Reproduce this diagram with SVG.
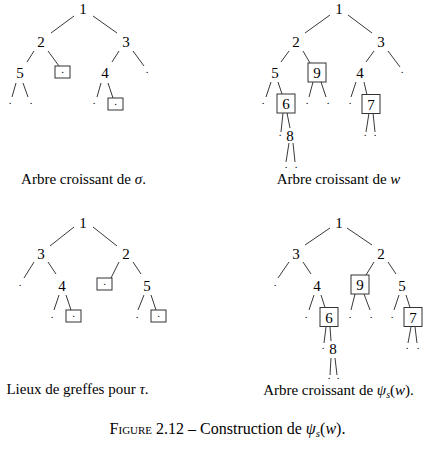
<svg xmlns="http://www.w3.org/2000/svg" width="436" height="454" viewBox="0 0 436 454">
<style>
text{font-family:"Liberation Serif","DejaVu Serif",serif;fill:#000;opacity:0.99}
.d{font-size:15px;text-anchor:middle}
.l{font-size:11px;text-anchor:middle}
.c{font-size:15px;text-anchor:middle}
.f{font-size:16px;text-anchor:middle}
.b{fill:none;stroke:#333;stroke-width:1}
#edges line{stroke:#222;stroke-width:0.9}
</style>
<rect width="436" height="454" fill="#fff"/>
<g id="edges">
<line x1="74" y1="16" x2="51" y2="33"/><line x1="93" y1="16" x2="117" y2="33"/>
<line x1="34" y1="51" x2="27" y2="62"/><line x1="48" y1="51" x2="59" y2="66"/>
<line x1="119" y1="51" x2="112" y2="62"/><line x1="133" y1="51" x2="144" y2="66"/>
<line x1="16" y1="83" x2="12" y2="97"/><line x1="23" y1="83" x2="28" y2="97"/>
<line x1="101" y1="83" x2="97" y2="97"/><line x1="108" y1="83" x2="113" y2="98"/>
<line x1="330" y1="15" x2="305" y2="33"/><line x1="348" y1="15" x2="372" y2="33"/>
<line x1="289" y1="51" x2="281" y2="62"/><line x1="303" y1="51" x2="310" y2="63"/>
<line x1="374" y1="51" x2="366" y2="62"/><line x1="388" y1="51" x2="400" y2="67"/>
<line x1="271" y1="82" x2="266" y2="97"/><line x1="278" y1="82" x2="282" y2="94"/>
<line x1="313" y1="82" x2="309" y2="97"/><line x1="321" y1="82" x2="326" y2="97"/>
<line x1="356" y1="82" x2="351" y2="97"/><line x1="364" y1="82" x2="367" y2="95"/>
<line x1="283" y1="113" x2="281" y2="132"/><line x1="287" y1="113" x2="290" y2="128"/>
<line x1="369" y1="113" x2="366" y2="132"/><line x1="373" y1="113" x2="375" y2="132"/>
<line x1="289" y1="143" x2="286" y2="162"/><line x1="293" y1="143" x2="295" y2="162"/>
<line x1="74" y1="227" x2="50" y2="246"/><line x1="93" y1="227" x2="117" y2="246"/>
<line x1="34" y1="262" x2="24" y2="278"/><line x1="48" y1="262" x2="56" y2="274"/>
<line x1="119" y1="262" x2="111" y2="278"/><line x1="133" y1="262" x2="141" y2="274"/>
<line x1="59" y1="295" x2="54" y2="310"/><line x1="66" y1="295" x2="71" y2="310"/>
<line x1="144" y1="295" x2="138" y2="310"/><line x1="151" y1="295" x2="156" y2="310"/>
<line x1="330" y1="228" x2="305" y2="245"/><line x1="347" y1="228" x2="372" y2="245"/>
<line x1="289" y1="262" x2="278" y2="278"/><line x1="303" y1="262" x2="311" y2="274"/>
<line x1="374" y1="262" x2="366" y2="275"/><line x1="388" y1="262" x2="396" y2="274"/>
<line x1="314" y1="295" x2="309" y2="310"/><line x1="321" y1="295" x2="325" y2="307.5"/>
<line x1="355" y1="294" x2="351" y2="310"/><line x1="364" y1="294" x2="370" y2="310"/>
<line x1="399" y1="295" x2="394" y2="310"/><line x1="406" y1="295" x2="410" y2="307.5"/>
<line x1="326" y1="327" x2="324" y2="343"/><line x1="330" y1="327" x2="331" y2="341"/>
<line x1="411" y1="327" x2="408" y2="343"/><line x1="415" y1="327" x2="417" y2="343"/>
<line x1="331" y1="358" x2="330" y2="375"/><line x1="335" y1="358" x2="337" y2="375"/>
</g>

<g id="p1-n1"><text class="d" x="83" y="14">1</text></g>
<g id="p1-n2"><text class="d" x="41" y="47">2</text></g>
<g id="p1-n3"><text class="d" x="126" y="47">3</text></g>
<g id="p1-n5"><text class="d" x="20" y="78">5</text></g>
<g id="p1-g1"><rect class="b" x="55" y="66" width="15" height="12"/><text class="l" x="62.5" y="73">.</text></g>
<g id="p1-n4"><text class="d" x="105" y="78">4</text></g>
<g id="p1-l1"><text class="l" x="147" y="73">.</text></g>
<g id="p1-l2"><text class="l" x="10" y="104">.</text></g>
<g id="p1-l3"><text class="l" x="31" y="104">.</text></g>
<g id="p1-l4"><text class="l" x="94" y="104">.</text></g>
<g id="p1-g2"><rect class="b" x="108" y="98" width="15" height="12"/><text class="l" x="115.5" y="105">.</text></g>
<text class="c" x="83.5" y="184">Arbre croissant de <tspan font-style="italic">σ</tspan>.</text>

<g id="p2-n1"><text class="d" x="339" y="14">1</text></g>
<g id="p2-n2"><text class="d" x="296" y="47">2</text></g>
<g id="p2-n3"><text class="d" x="381" y="47">3</text></g>
<g id="p2-n5"><text class="d" x="275" y="78">5</text></g>
<g id="p2-n9"><rect class="b" x="308" y="63" width="18" height="19"/><text class="d" x="317" y="78">9</text></g>
<g id="p2-n4"><text class="d" x="360" y="78">4</text></g>
<g id="p2-l1"><text class="l" x="402" y="73">.</text></g>
<g id="p2-l2"><text class="l" x="263" y="104">.</text></g>
<g id="p2-n6"><rect class="b" x="277" y="94" width="18" height="19"/><text class="d" x="286" y="109">6</text></g>
<g id="p2-l3"><text class="l" x="307" y="104">.</text></g>
<g id="p2-l4"><text class="l" x="328" y="104">.</text></g>
<g id="p2-l5"><text class="l" x="350" y="104">.</text></g>
<g id="p2-n7"><rect class="b" x="362" y="94.5" width="18" height="19"/><text class="d" x="371" y="109.5">7</text></g>
<g id="p2-l6"><text class="l" x="280" y="136">.</text></g>
<g id="p2-n8"><text class="d" x="290" y="141">8</text></g>
<g id="p2-l7"><text class="l" x="365" y="136">.</text></g>
<g id="p2-l8"><text class="l" x="375" y="136">.</text></g>
<g id="p2-l9"><text class="l" x="286" y="168">.</text></g>
<g id="p2-l10"><text class="l" x="296" y="168">.</text></g>
<text class="c" x="338.5" y="184">Arbre croissant de <tspan font-style="italic">w</tspan></text>

<g id="p3-n1"><text class="d" x="83" y="228">1</text></g>
<g id="p3-n3"><text class="d" x="41" y="259">3</text></g>
<g id="p3-n2"><text class="d" x="126" y="259">2</text></g>
<g id="p3-l1"><text class="l" x="20" y="286">.</text></g>
<g id="p3-n4"><text class="d" x="62" y="291">4</text></g>
<g id="p3-g1"><rect class="b" x="97" y="278" width="15" height="12"/><text class="l" x="104.5" y="285">.</text></g>
<g id="p3-n5"><text class="d" x="147" y="291">5</text></g>
<g id="p3-l2"><text class="l" x="52" y="318">.</text></g>
<g id="p3-g2"><rect class="b" x="66" y="310" width="15" height="12"/><text class="l" x="73.5" y="317">.</text></g>
<g id="p3-l3"><text class="l" x="137" y="318">.</text></g>
<g id="p3-g3"><rect class="b" x="151" y="310" width="15" height="12"/><text class="l" x="158.5" y="317">.</text></g>
<text class="c" x="77.5" y="394">Lieux de greffes pour <tspan font-style="italic">τ</tspan>.</text>

<g id="p4-n1"><text class="d" x="339" y="228">1</text></g>
<g id="p4-n3"><text class="d" x="296" y="259">3</text></g>
<g id="p4-n2"><text class="d" x="381" y="259">2</text></g>
<g id="p4-l1"><text class="l" x="275" y="286">.</text></g>
<g id="p4-n4"><text class="d" x="317" y="291">4</text></g>
<g id="p4-n9"><rect class="b" x="351" y="275" width="18" height="19"/><text class="d" x="360" y="290">9</text></g>
<g id="p4-n5"><text class="d" x="402" y="291">5</text></g>
<g id="p4-l2"><text class="l" x="306" y="318">.</text></g>
<g id="p4-n6"><rect class="b" x="320" y="307.5" width="18" height="19"/><text class="d" x="329" y="322.5">6</text></g>
<g id="p4-l3"><text class="l" x="350" y="318">.</text></g>
<g id="p4-l4"><text class="l" x="371" y="318">.</text></g>
<g id="p4-l5"><text class="l" x="392" y="318">.</text></g>
<g id="p4-n7"><rect class="b" x="404" y="307.5" width="18" height="19"/><text class="d" x="413" y="322.5">7</text></g>
<g id="p4-l6"><text class="l" x="323" y="349">.</text></g>
<g id="p4-n8"><text class="d" x="333" y="354">8</text></g>
<g id="p4-l7"><text class="l" x="407" y="349">.</text></g>
<g id="p4-l8"><text class="l" x="418" y="349">.</text></g>
<g id="p4-l9"><text class="l" x="329" y="379">.</text></g>
<g id="p4-l10"><text class="l" x="338" y="379">.</text></g>
<text class="c" x="338.5" y="395">Arbre croissant de <tspan font-style="italic">ψ</tspan><tspan font-style="italic" font-size="10" dy="3">s</tspan><tspan dy="-3">(</tspan><tspan font-style="italic">w</tspan>).</text>

<text class="f" x="227.5" y="434"><tspan font-variant="small-caps">Figure</tspan> 2.12 – Construction de <tspan font-style="italic">ψ</tspan><tspan font-style="italic" font-size="11" dy="3">s</tspan><tspan dy="-3">(</tspan><tspan font-style="italic">w</tspan>).</text>
</svg>
